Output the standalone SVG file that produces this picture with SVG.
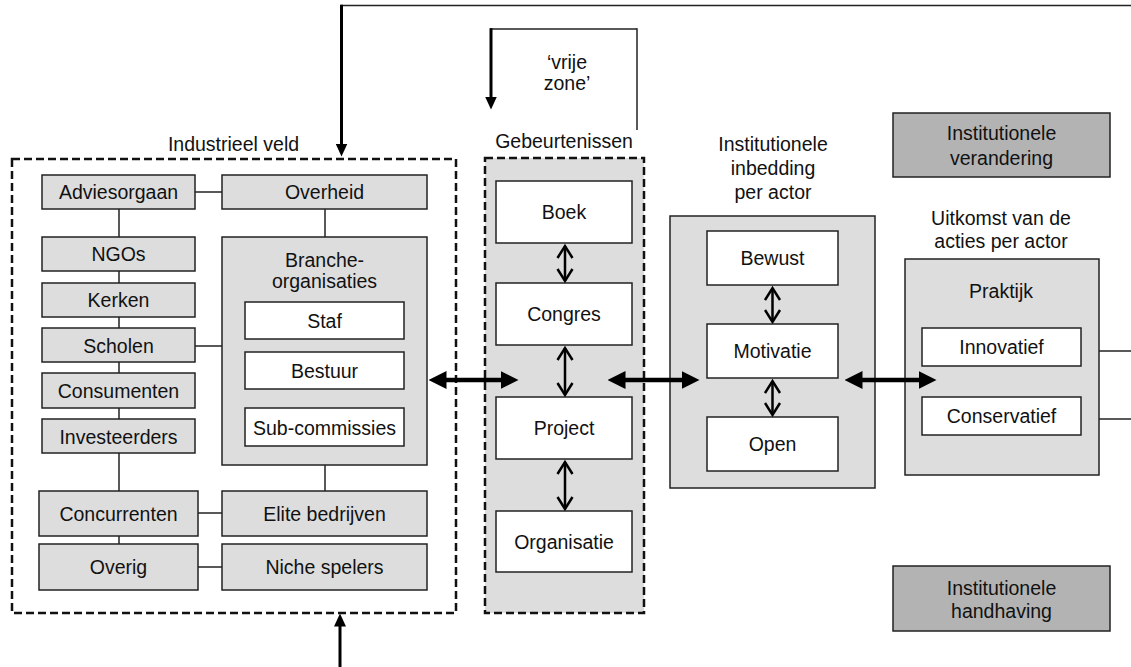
<svg xmlns="http://www.w3.org/2000/svg" width="1131" height="667" viewBox="0 0 1131 667">
<style>
text{font-family:"Liberation Sans",Arial,sans-serif;font-size:19.5px;fill:#111;text-anchor:middle}
.g{fill:#dddddd;stroke:#222;stroke-width:1.5}
.w{fill:#ffffff;stroke:#222;stroke-width:1.5}
.d{fill:#b3b3b3;stroke:#222;stroke-width:1.5}
.dash{stroke:#111;stroke-width:2.5;stroke-dasharray:8 4}
.c{stroke:#222;stroke-width:1.5;fill:none}
.thick{stroke:#000;stroke-width:4.5;fill:none}
.open{stroke:#000;stroke-width:2.5;fill:none}
.arr{stroke:#000;stroke-width:3;fill:none}
</style>
<defs>
<marker id="big" viewBox="0 0 18 18" refX="0.5" refY="9" markerWidth="18" markerHeight="18" markerUnits="userSpaceOnUse" orient="auto-start-reverse"><path d="M0,0 L18,9 L0,18 Z" fill="#000"/></marker>
<marker id="vee" viewBox="0 0 16 18" refX="13" refY="9" markerWidth="16" markerHeight="18" markerUnits="userSpaceOnUse" orient="auto-start-reverse"><path d="M1,1.5 L13,9 L1,16.5" fill="none" stroke="#000" stroke-width="2.5"/></marker>
<marker id="small" viewBox="0 0 13 12" refX="0.5" refY="6" markerWidth="13" markerHeight="12" markerUnits="userSpaceOnUse" orient="auto"><path d="M0,0 L13,6 L0,12 Z" fill="#000"/></marker>
</defs>

<g id="industrieel-veld">
<rect class="dash" x="12" y="159" width="444" height="454" fill="none"/>
<text x="233.5" y="151">Industrieel veld</text>
</g>
<g id="gebeurtenissen">
<rect class="dash" x="485" y="158" width="159" height="455" fill="#dddddd"/>
<text x="564" y="148">Gebeurtenissen</text>
</g>

<g id="adviesorgaan"><rect class="g" x="42" y="175" width="153" height="34"/><text x="118.5" y="199">Adviesorgaan</text></g>
<g id="overheid"><rect class="g" x="222" y="175" width="205" height="34"/><text x="324.5" y="199">Overheid</text></g>
<g id="ngos"><rect class="g" x="42" y="237" width="153" height="34"/><text x="118.5" y="261">NGOs</text></g>
<g id="kerken"><rect class="g" x="42" y="283" width="153" height="34"/><text x="118.5" y="307">Kerken</text></g>
<g id="scholen"><rect class="g" x="42" y="328" width="153" height="34"/><text x="118.5" y="352.5">Scholen</text></g>
<g id="consumenten"><rect class="g" x="42" y="373" width="153" height="35"/><text x="118.5" y="397.5">Consumenten</text></g>
<g id="investeerders"><rect class="g" x="42" y="419" width="153" height="34"/><text x="118.5" y="443.5">Investeerders</text></g>
<g id="concurrenten"><rect class="g" x="39" y="491" width="159" height="45"/><text x="118.5" y="521">Concurrenten</text></g>
<g id="overig"><rect class="g" x="39" y="544" width="159" height="46"/><text x="118.5" y="574">Overig</text></g>
<g id="elite-bedrijven"><rect class="g" x="222" y="491" width="205" height="45"/><text x="324.5" y="521">Elite bedrijven</text></g>
<g id="niche-spelers"><rect class="g" x="222" y="544" width="205" height="46"/><text x="324.5" y="574">Niche spelers</text></g>
<g id="brancheorganisaties">
<rect class="g" x="222" y="237" width="205" height="228"/>
<text x="324.5" y="267">Branche-</text>
<text x="324.5" y="288">organisaties</text>
</g>
<g id="staf"><rect class="w" x="245" y="302" width="159" height="37"/><text x="324.5" y="328">Staf</text></g>
<g id="bestuur"><rect class="w" x="245" y="352" width="159" height="37"/><text x="324.5" y="378">Bestuur</text></g>
<g id="sub-commissies"><rect class="w" x="245" y="408" width="159" height="38"/><text x="324.5" y="434.5">Sub-commissies</text></g>

<g id="boek"><rect class="w" x="496" y="181" width="136" height="62"/><text x="564" y="219">Boek</text></g>
<g id="congres"><rect class="w" x="496" y="283" width="136" height="62"/><text x="564" y="321">Congres</text></g>
<g id="project"><rect class="w" x="496" y="397" width="136" height="62"/><text x="564" y="435">Project</text></g>
<g id="organisatie"><rect class="w" x="496" y="511" width="136" height="61"/><text x="564" y="548.5">Organisatie</text></g>

<g id="institutionele-inbedding">
<rect class="g" x="670" y="216" width="205" height="272"/>
<text x="773" y="151">Institutionele</text>
<text x="773" y="175">inbedding</text>
<text x="773" y="199">per actor</text>
</g>
<g id="bewust"><rect class="w" x="707" y="231" width="131" height="54"/><text x="772.5" y="265">Bewust</text></g>
<g id="motivatie"><rect class="w" x="707" y="324" width="131" height="54"/><text x="772.5" y="358">Motivatie</text></g>
<g id="open"><rect class="w" x="707" y="417" width="131" height="54"/><text x="772.5" y="451">Open</text></g>

<g id="praktijk">
<rect class="g" x="905" y="259" width="194" height="216"/>
<text x="1001" y="225">Uitkomst van de</text>
<text x="1001" y="248">acties per actor</text>
<text x="1001" y="298">Praktijk</text>
</g>
<g id="innovatief"><rect class="w" x="922" y="328" width="159" height="38"/><text x="1001.5" y="354">Innovatief</text></g>
<g id="conservatief"><rect class="w" x="922" y="397" width="159" height="38"/><text x="1001.5" y="423">Conservatief</text></g>

<g id="institutionele-verandering"><rect class="d" x="893" y="113" width="217" height="64"/><text x="1001.5" y="140">Institutionele</text><text x="1001.5" y="165">verandering</text></g>
<g id="institutionele-handhaving"><rect class="d" x="893" y="566" width="217" height="65"/><text x="1001.5" y="595">Institutionele</text><text x="1001.5" y="618">handhaving</text></g>

<g id="vrije-zone-label"><text x="567" y="69">‘vrije</text><text x="567" y="90">zone’</text></g>

<g id="connectors">
<line class="c" x1="195" y1="192" x2="222" y2="192"/>
<line class="c" x1="119" y1="209" x2="119" y2="237"/>
<line class="c" x1="119" y1="271" x2="119" y2="283"/>
<line class="c" x1="119" y1="317" x2="119" y2="328"/>
<line class="c" x1="119" y1="362" x2="119" y2="373"/>
<line class="c" x1="119" y1="408" x2="119" y2="419"/>
<line class="c" x1="119" y1="453" x2="119" y2="491"/>
<line class="c" x1="119" y1="536" x2="119" y2="544"/>
<line class="c" x1="195" y1="346" x2="222" y2="346"/>
<line class="c" x1="325" y1="209" x2="325" y2="237"/>
<line class="c" x1="325" y1="465" x2="325" y2="491"/>
<line class="c" x1="198" y1="513" x2="222" y2="513"/>
<line class="c" x1="198" y1="567" x2="222" y2="567"/>
<line class="c" x1="1099" y1="351" x2="1131" y2="351"/>
<line class="c" x1="1099" y1="419" x2="1131" y2="419"/>

<line class="thick" x1="446" y1="380" x2="501" y2="380" marker-start="url(#big)" marker-end="url(#big)"/>
<line class="thick" x1="625" y1="380" x2="682" y2="380" marker-start="url(#big)" marker-end="url(#big)"/>
<line class="thick" x1="862" y1="380" x2="919" y2="380" marker-start="url(#big)" marker-end="url(#big)"/>

<line class="open" x1="565" y1="246" x2="565" y2="281" marker-start="url(#vee)" marker-end="url(#vee)"/>
<line class="open" x1="565" y1="348" x2="565" y2="395" marker-start="url(#vee)" marker-end="url(#vee)"/>
<line class="open" x1="565" y1="462" x2="565" y2="509" marker-start="url(#vee)" marker-end="url(#vee)"/>
<line class="open" x1="772.5" y1="288" x2="772.5" y2="322" marker-start="url(#vee)" marker-end="url(#vee)"/>
<line class="open" x1="772.5" y1="381" x2="772.5" y2="415" marker-start="url(#vee)" marker-end="url(#vee)"/>

<line class="c" x1="1131" y1="5.5" x2="340.5" y2="5.5"/>
<line class="arr" x1="341.5" y1="4.75" x2="341.5" y2="144" marker-end="url(#small)"/>
<line class="c" x1="490" y1="29" x2="637" y2="29"/>
<line class="c" x1="637" y1="28.25" x2="637" y2="130"/>
<line class="arr" x1="491" y1="28.25" x2="491" y2="97" marker-end="url(#small)"/>
<line class="arr" x1="340" y1="667" x2="340" y2="626" marker-end="url(#small)"/>
</g>
</svg>
